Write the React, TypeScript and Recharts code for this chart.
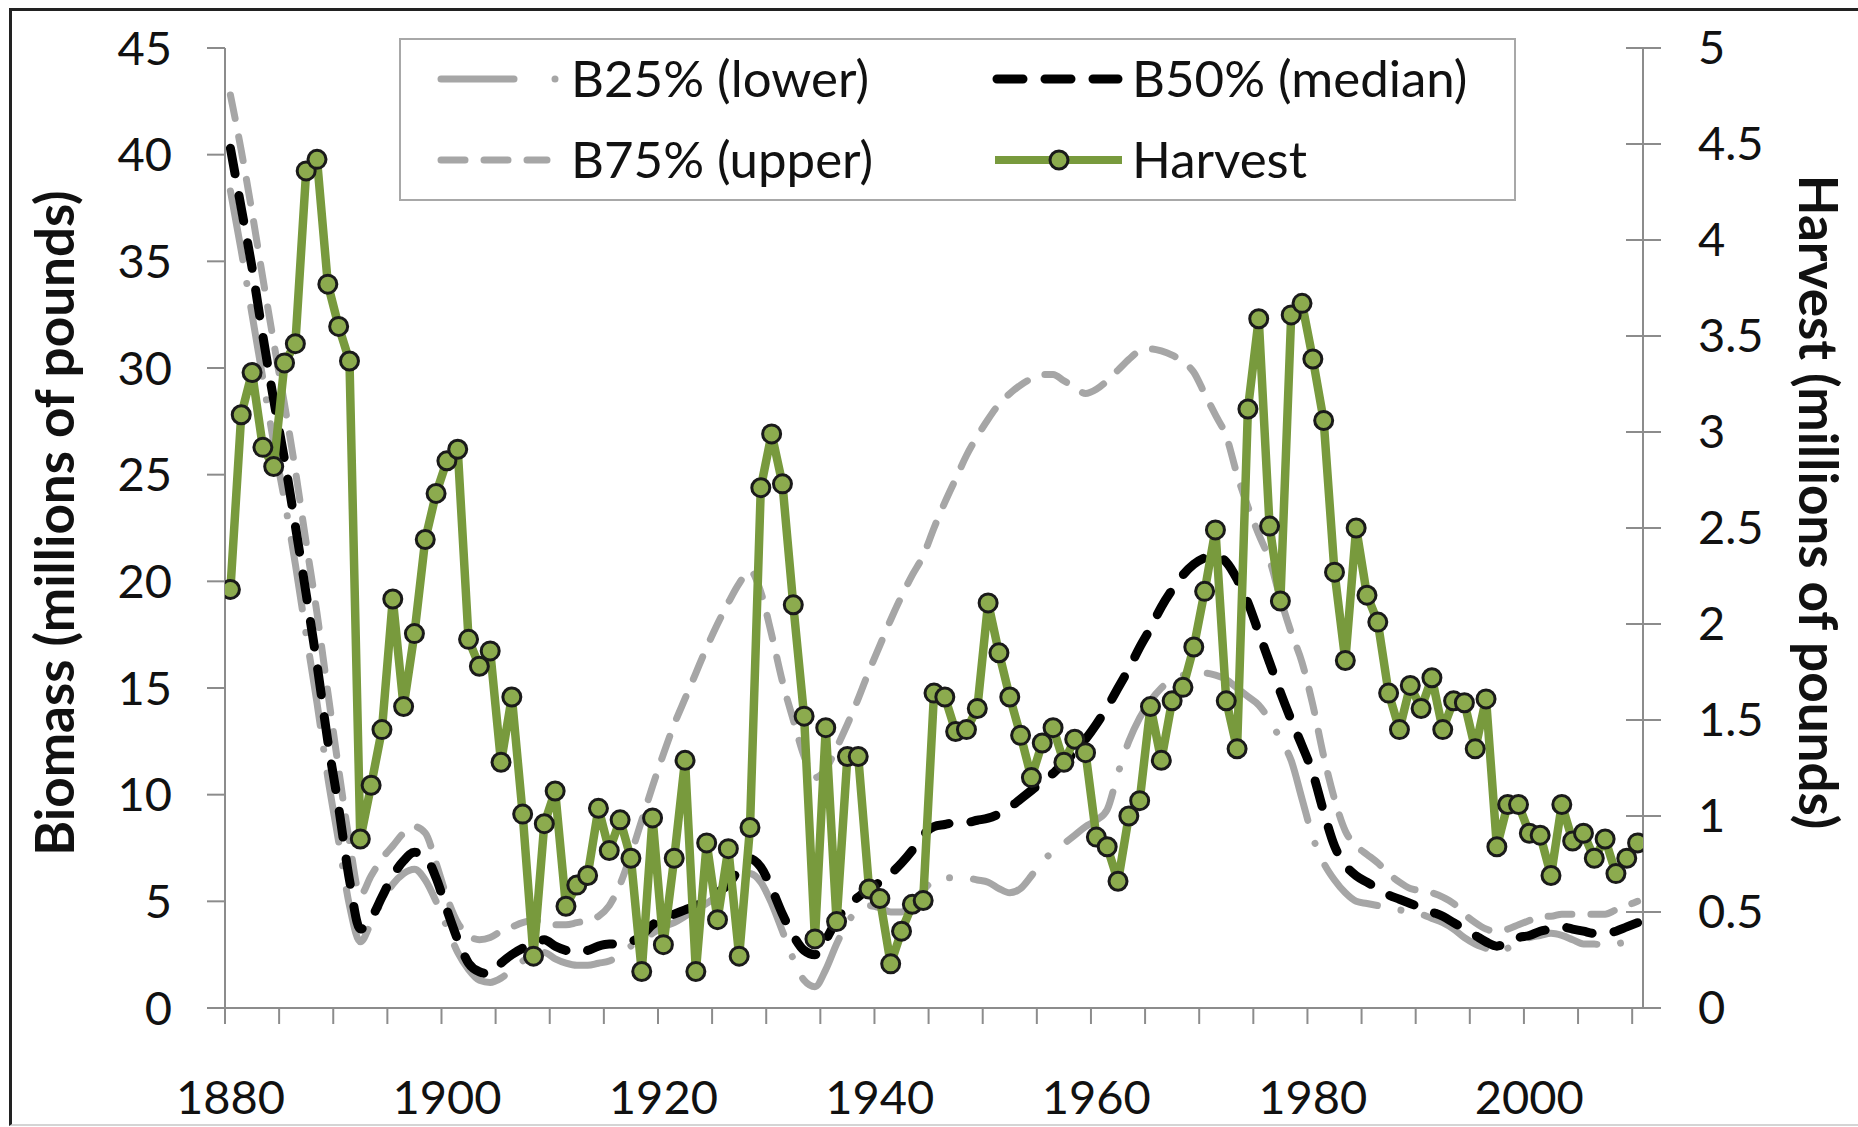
import React from 'react';
import { LineChart, Line, XAxis, YAxis, Legend, Label } from 'recharts';

const years = [
  1880, 1881, 1882, 1883, 1884, 1885, 1886, 1887, 1888, 1889,
  1890, 1891, 1892, 1893, 1894, 1895, 1896, 1897, 1898, 1899,
  1900, 1901, 1902, 1903, 1904, 1905, 1906, 1907, 1908, 1909,
  1910, 1911, 1912, 1913, 1914, 1915, 1916, 1917, 1918, 1919,
  1920, 1921, 1922, 1923, 1924, 1925, 1926, 1927, 1928, 1929,
  1930, 1931, 1932, 1933, 1934, 1935, 1936, 1937, 1938, 1939,
  1940, 1941, 1942, 1943, 1944, 1945, 1946, 1947, 1948, 1949,
  1950, 1951, 1952, 1953, 1954, 1955, 1956, 1957, 1958, 1959,
  1960, 1961, 1962, 1963, 1964, 1965, 1966, 1967, 1968, 1969,
  1970, 1971, 1972, 1973, 1974, 1975, 1976, 1977, 1978, 1979,
  1980, 1981, 1982, 1983, 1984, 1985, 1986, 1987, 1988, 1989,
  1990, 1991, 1992, 1993, 1994, 1995, 1996, 1997, 1998, 1999,
  2000, 2001, 2002, 2003, 2004, 2005, 2006, 2007, 2008, 2009,
  2010,
];

const b25 = [
  38.3, 35.5, 32.5, 29.5, 26.5, 23.8, 20.8, 17.5, 14.3, 10.8,
  7.8, 4.8, 3.1, 4.0, 5.0, 5.8, 6.3, 6.5, 6.0, 5.0,
  3.8, 2.6, 1.8, 1.3, 1.2, 1.4, 1.8, 2.2, 2.5, 2.6,
  2.3, 2.1, 2.0, 2.0, 2.1, 2.2, 2.5, 2.9, 3.2, 3.5,
  3.8, 4.0, 4.3, 4.6, 4.9, 5.3, 5.8, 6.2, 6.3, 5.9,
  4.9, 3.6, 2.3, 1.3, 1.0, 1.8, 3.0, 4.0, 4.6, 4.8,
  4.7, 4.5, 4.5, 4.9, 5.5, 6.0, 6.1, 6.1, 6.1, 6.0,
  5.9, 5.6, 5.4, 5.6, 6.2, 6.9, 7.3, 7.7, 8.1, 8.5,
  8.8, 9.3, 11.0, 12.5, 13.6, 14.4, 15.0, 15.4, 15.6, 15.7,
  15.7, 15.6, 15.4, 15.0, 14.6, 14.2, 13.5, 12.6, 11.6, 9.8,
  8.0, 6.8, 6.0, 5.4, 5.0, 4.9, 4.8, 4.7, 4.6, 4.5,
  4.4, 4.2, 4.0, 3.7, 3.3, 3.0, 2.8, 2.6, 2.8, 3.1,
  3.3, 3.4, 3.5, 3.4, 3.2, 3.0, 3.0, 2.9, 3.0, 3.1,
  3.2,
];

const b50 = [
  40.3, 37.5, 34.7, 31.5, 28.5, 25.7, 22.6, 19.4, 16.1, 12.5,
  9.4, 6.0, 3.7, 4.2, 5.2, 6.2, 6.9, 7.3, 7.1, 6.1,
  4.6, 3.2, 2.1, 1.7, 1.6, 2.1, 2.5, 2.8, 3.0, 3.2,
  2.9, 2.7, 2.6, 2.7, 2.9, 3.0, 3.0, 3.1, 3.4, 3.9,
  4.2, 4.4, 4.6, 4.8, 5.1, 5.4, 5.8, 6.5, 7.0, 6.6,
  5.6, 4.4, 3.4, 2.7, 2.5, 3.2, 4.1, 4.8, 5.2, 5.6,
  5.9, 6.3, 6.8, 7.4, 8.1, 8.5, 8.6, 8.7, 8.7, 8.8,
  8.9, 9.1, 9.4, 9.8, 10.2, 10.6, 11.0, 11.5, 12.0, 12.6,
  13.3, 14.1, 15.0, 15.9, 16.9, 17.8, 18.8, 19.6, 20.3, 20.8,
  21.1, 21.2, 20.9, 20.1, 19.0, 17.6, 16.2, 14.8, 13.5, 12.3,
  11.0, 9.2, 7.6, 6.7, 6.2, 5.9, 5.6, 5.3, 5.1, 4.9,
  4.7, 4.5, 4.3, 4.0, 3.7, 3.4, 3.1, 2.9, 3.1, 3.3,
  3.4, 3.6, 3.7, 3.8, 3.7, 3.6, 3.5, 3.5, 3.6, 3.8,
  4.0,
];

const b75 = [
  42.8, 40.2, 37.3, 34.2, 31.2, 28.3, 25.2, 21.8, 18.5, 14.8,
  11.2, 7.8, 5.3, 6.2, 7.0, 7.6, 8.2, 8.5, 8.2, 6.8,
  5.2, 4.0, 3.4, 3.2, 3.3, 3.6, 3.8, 4.0, 4.1, 4.0,
  3.9, 3.9, 4.0, 4.1, 4.3, 4.8, 5.8, 7.2, 8.8, 10.4,
  11.9, 13.3, 14.5, 15.7, 16.9, 18.0, 19.0, 19.9, 20.5, 19.5,
  17.5, 15.3, 13.5, 11.8, 10.8, 11.2, 12.2, 13.3, 14.5, 15.8,
  17.0, 18.2, 19.3, 20.3, 21.2, 22.5, 23.7, 24.8, 25.9, 26.8,
  27.6, 28.3, 28.8, 29.2, 29.5, 29.7, 29.7, 29.4, 29.1, 28.8,
  29.0, 29.4, 29.9, 30.4, 30.8, 30.9, 30.8, 30.6, 30.3, 29.8,
  28.8, 27.8, 26.8, 25.0, 23.5, 22.2, 21.0, 19.2, 17.6, 16.2,
  14.2, 11.8, 9.8, 8.3, 7.6, 7.2, 6.8, 6.3, 5.9, 5.6,
  5.5, 5.4, 5.2, 4.9, 4.4, 4.0, 3.7, 3.6, 3.7, 3.9,
  4.1, 4.3, 4.3, 4.4, 4.4, 4.4, 4.4, 4.4, 4.6, 4.8,
  5.0,
];

const harvest = [
  2.18, 3.09, 3.31, 2.92, 2.82, 3.36, 3.46, 4.36, 4.42, 3.77,
  3.55, 3.37, 0.88, 1.16, 1.45, 2.13, 1.57, 1.95, 2.44, 2.68,
  2.85, 2.91, 1.92, 1.78, 1.86, 1.28, 1.62, 1.01, 0.27, 0.96,
  1.13, 0.53, 0.64, 0.69, 1.04, 0.82, 0.98, 0.78, 0.19, 0.99,
  0.33, 0.78, 1.29, 0.19, 0.86, 0.46, 0.83, 0.27, 0.94, 2.71,
  2.99, 2.73, 2.10, 1.52, 0.36, 1.46, 0.45, 1.31, 1.31, 0.62,
  0.57, 0.23, 0.40, 0.54, 0.56, 1.64, 1.62, 1.44, 1.45, 1.56,
  2.11, 1.85, 1.62, 1.42, 1.20, 1.38, 1.46, 1.28, 1.40, 1.33,
  0.89, 0.84, 0.66, 1.00, 1.08, 1.57, 1.29, 1.60, 1.67, 1.88,
  2.17, 2.49, 1.60, 1.35, 3.12, 3.59, 2.51, 2.12, 3.61, 3.67,
  3.38, 3.06, 2.27, 1.81, 2.50, 2.15, 2.01, 1.64, 1.45, 1.68,
  1.56, 1.72, 1.45, 1.60, 1.59, 1.35, 1.61, 0.84, 1.06, 1.06,
  0.91, 0.90, 0.69, 1.06, 0.87, 0.91, 0.78, 0.88, 0.70, 0.78,
  0.86,
];

// tick marks sit on category boundaries, labels on category centres
const xBoundaryTicks = [
  1879.5, 1884.5, 1889.5, 1894.5, 1899.5, 1904.5, 1909.5, 1914.5, 1919.5,
  1924.5, 1929.5, 1934.5, 1939.5, 1944.5, 1949.5, 1954.5, 1959.5, 1964.5,
  1969.5, 1974.5, 1979.5, 1984.5, 1989.5, 1994.5, 1999.5, 2004.5, 2009.5,
];
const xLabelTicks = [1880, 1900, 1920, 1940, 1960, 1980, 2000];
const leftTicks = [0, 5, 10, 15, 20, 25, 30, 35, 40, 45];
const rightTicks = [0, 0.5, 1, 1.5, 2, 2.5, 3, 3.5, 4, 4.5, 5];

const seriesNames = {
  b25: 'B25% (lower)',
  b50: 'B50% (median)',
  b75: 'B75% (upper)',
  harvest: 'Harvest',
};

const rows = years.map((year, i) => ({
  year,
  b25: b25[i],
  b50: b50[i],
  b75: b75[i],
  harvest: harvest[i],
}));

const xTicks = [...xBoundaryTicks, ...xLabelTicks].sort((a, b) => a - b);

const AXIS = '#8c8c8c';
const GRAY = '#a6a6a6';
const GREEN = '#789a3d';
const MARKER_FILL = '#8cab4e';
const TEXT = '#111111';
const FONT_SIZE = 47;
const LEGEND_FONT = 51;
const TITLE_FONT = 53;

const B25_DASH = '70 24 0.01 24';
const B75_DASH = '24 19';
const B50_DASH = '26 22';

function XTick(props: any) {
  const { x, y, payload } = props;
  const v = payload.value;
  if (xLabelTicks.includes(v)) {
    return (
      <text x={x} y={y + 73} dy="0.71em" textAnchor="middle" fontSize={FONT_SIZE} fill={TEXT}>
        {v}
      </text>
    );
  }
  return <line x1={x} x2={x} y1={y} y2={y + 16} stroke={AXIS} strokeWidth={2} />;
}

function RightTick(props: any) {
  const { x, y, payload } = props;
  return (
    <g>
      <line x1={x - 17} x2={x + 18} y1={y} y2={y} stroke={AXIS} strokeWidth={2} />
      <text x={x + 55} y={y} dy="0.35em" textAnchor="start" fontSize={FONT_SIZE} fill={TEXT}>
        {payload.value}
      </text>
    </g>
  );
}

function LeftTitle(props: any) {
  const vb = props.viewBox;
  const cx = vb.x + 55;
  const cy = vb.y + vb.height / 2 - 5;
  return (
    <text
      x={cx}
      y={cy}
      transform={`rotate(-90 ${cx} ${cy})`}
      textAnchor="middle"
      dy="0.35em"
      fontSize={TITLE_FONT}
      fontWeight="bold"
      fill={TEXT}
    >
      Biomass (millions of pounds)
    </text>
  );
}

function RightTitle(props: any) {
  const vb = props.viewBox;
  const cx = vb.x + 175;
  const cy = vb.y + vb.height / 2 - 26;
  return (
    <text
      x={cx}
      y={cy}
      transform={`rotate(90 ${cx} ${cy})`}
      textAnchor="middle"
      dy="0.35em"
      fontSize={TITLE_FONT}
      fontWeight="bold"
      fill={TEXT}
    >
      Harvest (millions of pounds)
    </text>
  );
}

function LegendBox() {
  const r1 = 41;
  const r2 = 122;
  return (
    <svg width={1117} height={163} style={{ display: 'block' }}>
      <rect x={1} y={1} width={1115} height={161} fill="#ffffff" stroke="#a8a8a8" strokeWidth={2} />
      {/* B25 */}
      <line x1={42} x2={115} y1={r1} y2={r1} stroke={GRAY} strokeWidth={7} strokeLinecap="round" />
      <circle cx={156} cy={r1} r={3.5} fill={GRAY} />
      <text x={172} y={r1} dy="0.35em" fontSize={LEGEND_FONT} fill={TEXT}>{seriesNames.b25}</text>
      {/* B75 */}
      <path d={`M42 ${r2} H148`} stroke={GRAY} strokeWidth={7} strokeLinecap="round" strokeDasharray={B75_DASH} fill="none" />
      <text x={172} y={r2} dy="0.35em" fontSize={LEGEND_FONT} fill={TEXT}>{seriesNames.b75}</text>
      {/* B50 */}
      <path d={`M598 ${r1} H719`} stroke="#000" strokeWidth={9} strokeLinecap="round" strokeDasharray={B50_DASH} fill="none" />
      <text x={733} y={r1} dy="0.35em" fontSize={LEGEND_FONT} fill={TEXT}>{seriesNames.b50}</text>
      {/* Harvest */}
      <line x1={596} x2={723} y1={r2} y2={r2} stroke={GREEN} strokeWidth={8} />
      <circle cx={660} cy={r2} r={9} fill={MARKER_FILL} stroke="#1a1a1a" strokeWidth={3} />
      <text x={733} y={r2} dy="0.35em" fontSize={LEGEND_FONT} fill={TEXT}>{seriesNames.harvest}</text>
    </svg>
  );
}

export default function App() {
  return (
    <div
      style={{
        position: 'absolute',
        left: 0,
        top: 0,
        width: 1858,
        height: 1127,
        background: '#ffffff',
        overflow: 'hidden',
        fontFamily: 'Lato, "Open Sans", sans-serif',
      }}
    >
      <div
        style={{
          position: 'absolute',
          left: 9,
          top: 8,
          width: 1900,
          height: 1113,
          borderLeft: '3px solid #222',
          borderTop: '3px solid #222',
          borderBottom: '2px solid #d4d4d4',
        }}
      />
      <LineChart
        width={1858}
        height={1127}
        data={rows}
        margin={{ top: 48, right: 0, bottom: 0, left: 0 }}
      >
        <XAxis
          dataKey="year"
          type="number"
          domain={[1879.5, 2010.5]}
          allowDataOverflow
          ticks={xTicks}
          interval={0}
          tick={XTick}
          tickLine={false}
          tickSize={0}
          tickMargin={0}
          axisLine={{ stroke: AXIS, strokeWidth: 2 }}
          height={119}
        />
        <YAxis
          yAxisId="left"
          orientation="left"
          width={225}
          domain={[0, 45]}
          ticks={leftTicks}
          interval={0}
          tickSize={18}
          tickMargin={35}
          tickLine={{ stroke: AXIS, strokeWidth: 2 }}
          axisLine={{ stroke: AXIS, strokeWidth: 2 }}
          tick={{ fontSize: FONT_SIZE, fill: TEXT }}
        >
          <Label content={LeftTitle} />
        </YAxis>
        <YAxis
          yAxisId="right"
          orientation="right"
          width={215}
          domain={[0, 5]}
          ticks={rightTicks}
          interval={0}
          tick={RightTick}
          tickLine={false}
          tickSize={0}
          tickMargin={0}
          axisLine={{ stroke: AXIS, strokeWidth: 2 }}
        >
          <Label content={RightTitle} />
        </YAxis>
        <Legend
          layout="horizontal"
          verticalAlign="middle"
          align="center"
          content={LegendBox}
          wrapperStyle={{ left: 399, top: 38, width: 1117, height: 163, margin: 0, padding: 0 }}
        />
        <Line
          yAxisId="left"
          dataKey="b75"
          name={seriesNames.b75}
          type="monotone"
          stroke={GRAY}
          strokeWidth={7}
          strokeDasharray={B75_DASH}
          strokeLinecap="round"
          dot={false}
          activeDot={false}
          isAnimationActive={false}
        />
        <Line
          yAxisId="left"
          dataKey="b25"
          name={seriesNames.b25}
          type="monotone"
          stroke={GRAY}
          strokeWidth={7}
          strokeDasharray={B25_DASH}
          strokeLinecap="round"
          dot={false}
          activeDot={false}
          isAnimationActive={false}
        />
        <Line
          yAxisId="left"
          dataKey="b50"
          name={seriesNames.b50}
          type="monotone"
          stroke="#000000"
          strokeWidth={9}
          strokeDasharray={B50_DASH}
          strokeLinecap="round"
          dot={false}
          activeDot={false}
          isAnimationActive={false}
        />
        <Line
          yAxisId="right"
          dataKey="harvest"
          name={seriesNames.harvest}
          type="linear"
          stroke={GREEN}
          strokeWidth={8.5}
          strokeLinejoin="round"
          dot={{ r: 9, fill: MARKER_FILL, stroke: '#1a1a1a', strokeWidth: 3 }}
          activeDot={false}
          isAnimationActive={false}
        />
      </LineChart>
    </div>
  );
}
